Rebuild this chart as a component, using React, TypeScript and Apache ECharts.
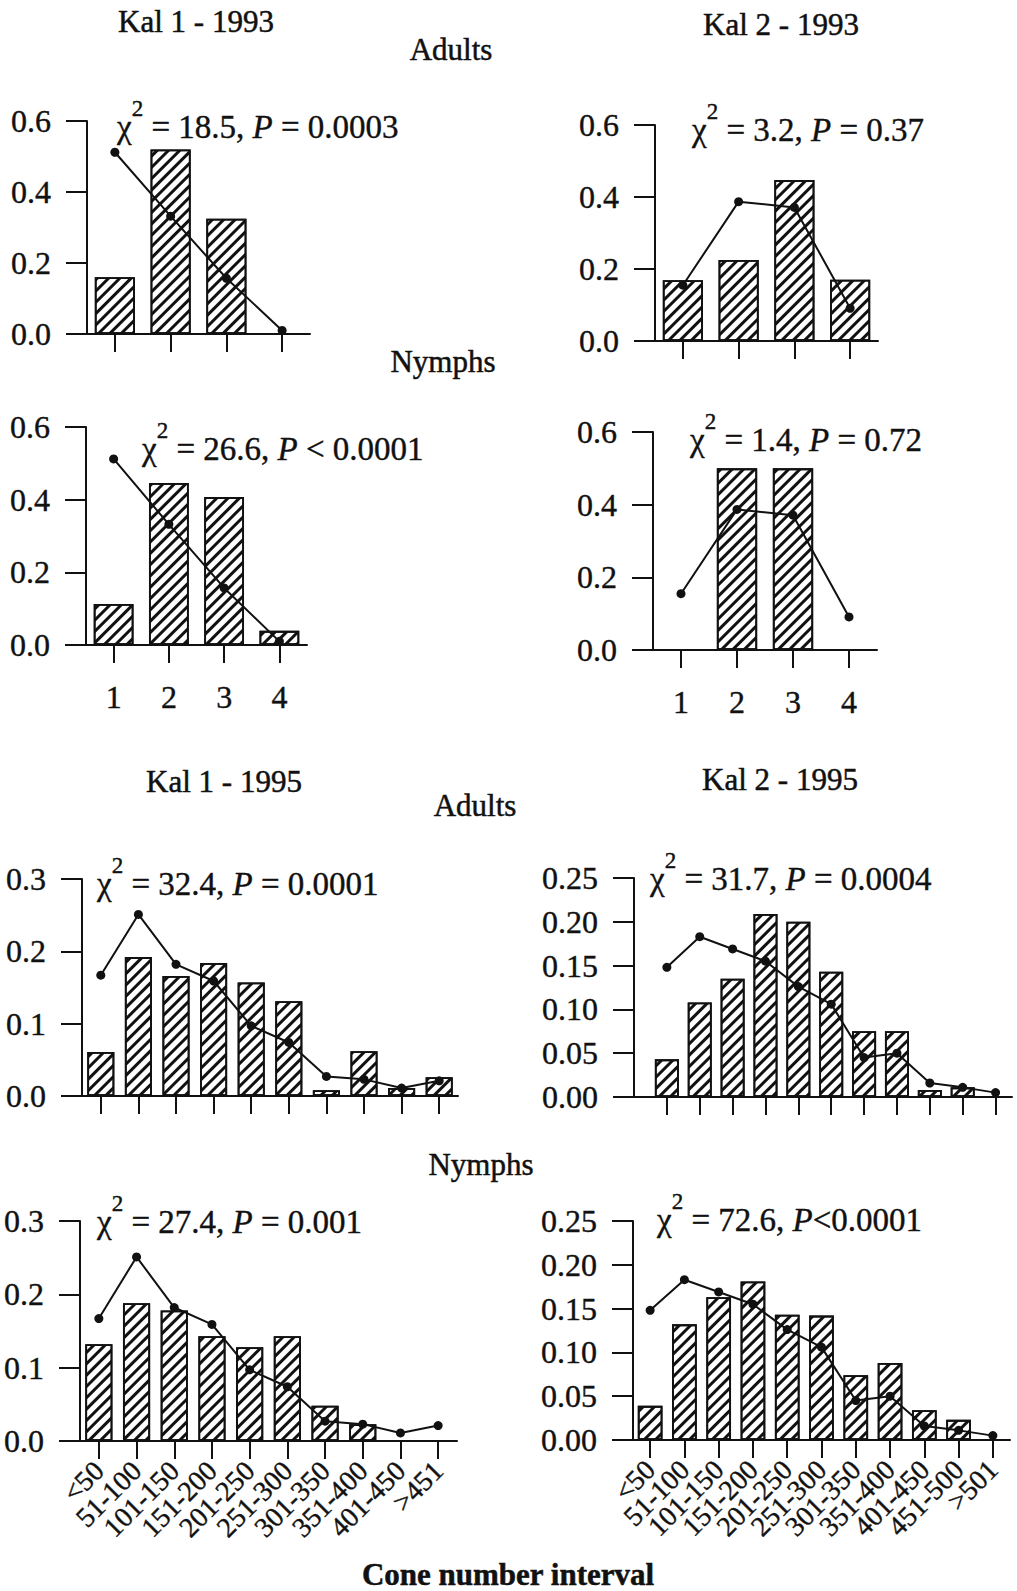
import React, { useEffect, useRef } from 'react';
import * as echarts from 'echarts';

// ---------- categories ----------
const cat1993 = ['1', '2', '3', '4'];
const catKal1_1995 = ['<50', '51-100', '101-150', '151-200', '201-250', '251-300', '301-350', '351-400', '401-450', '>451'];
const catKal2_1995 = ['<50', '51-100', '101-150', '151-200', '201-250', '251-300', '301-350', '351-400', '401-450', '451-500', '>501'];

// ---------- observed proportions (bars) ----------
const kal1_1993_adults = [0.16, 0.52, 0.325, 0];
const kal1_1993_nymphs = [0.113, 0.446, 0.407, 0.039];
const kal2_1993_adults = [0.169, 0.225, 0.447, 0.17];
const kal2_1993_nymphs = [0, 0.5, 0.5, 0];
const kal1_1995_adults = [0.061, 0.192, 0.166, 0.184, 0.157, 0.131, 0.008, 0.062, 0.011, 0.026];
const kal1_1995_nymphs = [0.132, 0.188, 0.178, 0.143, 0.128, 0.143, 0.048, 0.023, 0, 0];
const kal2_1995_adults = [0.043, 0.108, 0.135, 0.209, 0.2, 0.143, 0.075, 0.075, 0.008, 0.011, 0];
const kal2_1995_nymphs = [0.039, 0.132, 0.163, 0.181, 0.143, 0.142, 0.074, 0.088, 0.034, 0.023, 0];

// ---------- expected proportions (line) ----------
const kal1_1993_expected = [0.512, 0.332, 0.157, 0.01];
const kal2_1993_expected = [0.155, 0.387, 0.371, 0.091];
const kal1_1995_expected = [0.167, 0.251, 0.182, 0.159, 0.097, 0.074, 0.027, 0.023, 0.011, 0.021];
const kal2_1995_expected = [0.148, 0.183, 0.169, 0.155, 0.126, 0.106, 0.045, 0.05, 0.016, 0.011, 0.005];

// ---------- test statistics ----------
const chiSq = ['18.5', '3.2', '26.6', '1.4', '32.4', '31.7', '27.4', '72.6'];
const pText = [' = 0.0003', ' = 0.37', ' < 0.0001', ' = 0.72', ' = 0.0001', ' = 0.0004', ' = 0.001', '<0.0001'];

// ---------- text labels ----------
const siteTitles = ['Kal 1 - 1993', 'Kal 2 - 1993', 'Kal 1 - 1995', 'Kal 2 - 1995'];
const stageLabels = ['Adults', 'Nymphs', 'Adults', 'Nymphs'];
const xAxisTitle = 'Cone number interval';

const panelData = [
  { cats: cat1993, obs: kal1_1993_adults, exp: kal1_1993_expected },
  { cats: cat1993, obs: kal2_1993_adults, exp: kal2_1993_expected },
  { cats: cat1993, obs: kal1_1993_nymphs, exp: kal1_1993_expected },
  { cats: cat1993, obs: kal2_1993_nymphs, exp: kal2_1993_expected },
  { cats: catKal1_1995, obs: kal1_1995_adults, exp: kal1_1995_expected },
  { cats: catKal2_1995, obs: kal2_1995_adults, exp: kal2_1995_expected },
  { cats: catKal1_1995, obs: kal1_1995_nymphs, exp: kal1_1995_expected },
  { cats: catKal2_1995, obs: kal2_1995_nymphs, exp: kal2_1995_expected },
];

// ---------- layout (positions / sizes) ----------
const layouts = [
  { left: 87, top: 121, width: 223, height: 213, yMax: 0.6, yStep: 0.2, dec: 1, labels: false, rotate: 0, pad: 0, nx: 117, ny: 97 },
  { left: 655, top: 125, width: 223, height: 216, yMax: 0.6, yStep: 0.2, dec: 1, labels: false, rotate: 0, pad: 0, nx: 692, ny: 100 },
  { left: 86, top: 427, width: 221, height: 218, yMax: 0.6, yStep: 0.2, dec: 1, labels: true, rotate: 0, pad: 0, nx: 142, ny: 419 },
  { left: 653, top: 432, width: 224, height: 218, yMax: 0.6, yStep: 0.2, dec: 1, labels: true, rotate: 0, pad: 0, nx: 690, ny: 410 },
  { left: 82, top: 879, width: 376, height: 217, yMax: 0.3, yStep: 0.1, dec: 1, labels: false, rotate: 0, pad: 0, nx: 97, ny: 854 },
  { left: 634, top: 878, width: 378, height: 219, yMax: 0.25, yStep: 0.05, dec: 2, labels: false, rotate: 0, pad: 0.5, nx: 650, ny: 849 },
  { left: 80, top: 1221, width: 377, height: 220, yMax: 0.3, yStep: 0.1, dec: 1, labels: true, rotate: 45, pad: 0, nx: 97, ny: 1192 },
  { left: 633, top: 1221, width: 377, height: 219, yMax: 0.25, yStep: 0.05, dec: 2, labels: true, rotate: 45, pad: 0, nx: 657, ny: 1190 },
];

const titlePos = [
  { x: 196, y: 21 }, { x: 781, y: 24 }, { x: 224, y: 781 }, { x: 780, y: 779 },
];
const stagePos = [
  { x: 451, y: 49 }, { x: 443, y: 361 }, { x: 475, y: 805 }, { x: 481, y: 1164 },
];

const FONT = '"Liberation Serif", "Times New Roman", serif';
const INK = '#111';
const BAR_FRACTION = 0.72;

function buildOption() {
  const grid: any[] = [];
  const xAxis: any[] = [];
  const yAxis: any[] = [];
  const series: any[] = [];
  const title: any[] = [];
  const graphic: any[] = [];

  const labelInk = { color: INK, fontFamily: FONT, textBorderColor: INK, textBorderWidth: 0.4 };
  const axisLineStyle = { color: INK, width: 2 };

  layouts.forEach((L, i) => {
    const d = panelData[i];
    const n = d.cats.length;
    const idx = d.cats.map((_, k) => k);
    const useValueAxis = L.pad > 0;

    grid.push({ left: L.left, top: L.top, width: L.width, height: L.height, containLabel: false });

    const xLabel = {
      show: L.labels,
      rotate: L.rotate,
      margin: L.rotate ? 25 : 36,
      fontSize: L.rotate ? 28 : 32,
      hideOverlap: false,
      ...labelInk,
    };

    if (useValueAxis) {
      // extra empty space on the left of the first category (as in the original panel)
      const xMin = -0.5 - L.pad;
      const xMax = n - 0.5;
      xAxis.push({
        type: 'value',
        gridIndex: i,
        min: xMin,
        max: xMax,
        splitLine: { show: false },
        axisLine: { show: true, onZero: false, lineStyle: axisLineStyle },
        axisTick: { show: true, customValues: idx, length: 18, lineStyle: axisLineStyle },
        axisLabel: { ...xLabel, customValues: idx, formatter: (v: number) => d.cats[Math.round(v)] ?? '' },
      });
      const band = L.width / (xMax - xMin);
      series.push({
        type: 'bar', xAxisIndex: i, yAxisIndex: i,
        barWidth: Math.round(band * BAR_FRACTION),
        data: d.obs.map((v, k) => [k, v]),
      });
      series.push({
        type: 'line', xAxisIndex: i, yAxisIndex: i,
        data: d.exp.map((v, k) => [k, v]),
      });
    } else {
      xAxis.push({
        type: 'category',
        gridIndex: i,
        data: d.cats,
        boundaryGap: true,
        splitLine: { show: false },
        axisLine: { show: true, onZero: false, lineStyle: axisLineStyle },
        axisTick: { show: true, alignWithLabel: true, interval: 0, length: 18, lineStyle: axisLineStyle },
        axisLabel: { ...xLabel, interval: 0 },
      });
      series.push({
        type: 'bar', xAxisIndex: i, yAxisIndex: i,
        barWidth: `${BAR_FRACTION * 100}%`,
        data: d.obs,
      });
      series.push({
        type: 'line', xAxisIndex: i, yAxisIndex: i,
        data: d.exp,
      });
    }

    yAxis.push({
      type: 'value',
      gridIndex: i,
      min: 0,
      max: L.yMax,
      interval: L.yStep,
      splitLine: { show: false },
      axisLine: { show: true, onZero: false, lineStyle: axisLineStyle },
      axisTick: { show: true, length: 21, lineStyle: axisLineStyle },
      axisLabel: {
        margin: 36,
        fontSize: 32,
        formatter: (v: number) => v.toFixed(L.dec),
        ...labelInk,
      },
    });

    const tok = { fontFamily: FONT, fontWeight: 'normal', color: INK, textBorderColor: INK, textBorderWidth: 0.4 };
    title.push({
      left: L.nx,
      top: L.ny,
      padding: 0,
      text: `{n|χ}{sup|2}{n| = ${chiSq[i]}, }{it|P}{n|${pText[i]}}`,
      textStyle: {
        fontWeight: 'normal',
        rich: {
          n: { ...tok, fontSize: 33, lineHeight: 46, verticalAlign: 'bottom' },
          it: { ...tok, fontSize: 33, fontStyle: 'italic', lineHeight: 46, verticalAlign: 'bottom' },
          sup: { ...tok, fontSize: 23, lineHeight: 22, verticalAlign: 'top' },
        },
      },
    });
  });

  // shared styling for bar + line series
  series.forEach((s) => {
    if (s.type === 'bar') {
      s.itemStyle = {
        color: '#fff',
        borderColor: INK,
        borderWidth: 1.8,
        decal: {
          symbol: 'rect',
          symbolSize: 1,
          color: INK,
          dashArrayX: [1, 0],
          dashArrayY: [2.2, 4.2],
          rotation: -Math.PI / 4,
        },
      };
      s.z = 2;
    } else {
      s.symbol = 'circle';
      s.symbolSize = 9;
      s.itemStyle = { color: INK };
      s.lineStyle = { color: INK, width: 2 };
      s.z = 5;
    }
  });

  const txt = (text: string, x: number, y: number, font: string) => ({
    type: 'text',
    style: {
      text, x, y, align: 'center', verticalAlign: 'middle', font, fill: INK,
      stroke: INK, lineWidth: 0.5,
    },
  });

  siteTitles.forEach((t, i) => graphic.push(txt(t, titlePos[i].x, titlePos[i].y, `31px ${FONT}`)));
  stageLabels.forEach((t, i) => graphic.push(txt(t, stagePos[i].x, stagePos[i].y, `31px ${FONT}`)));
  graphic.push(txt(xAxisTitle, 508, 1574, `bold 31px ${FONT}`));

  return { animation: false, backgroundColor: '#fff', grid, xAxis, yAxis, series, title, graphic };
}

export default function App() {
  const ref = useRef<HTMLDivElement>(null);
  useEffect(() => {
    if (!ref.current) return;
    const chart = echarts.init(ref.current, undefined, { renderer: 'svg' });
    chart.setOption(buildOption() as any);
    return () => chart.dispose();
  }, []);
  return (
    <div
      ref={ref}
      style={{ position: 'absolute', left: 0, top: 0, width: 1017, height: 1591, background: '#fff' }}
    />
  );
}
